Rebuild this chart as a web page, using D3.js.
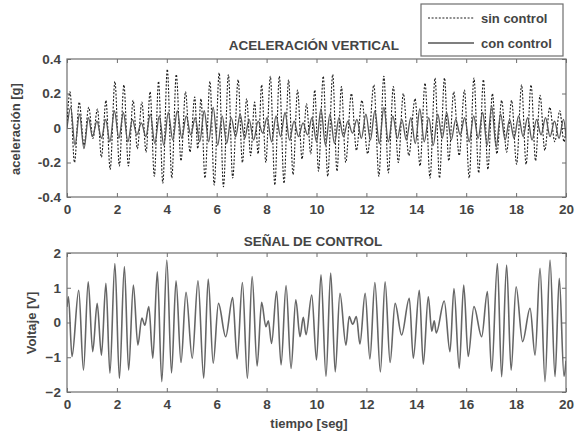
<!DOCTYPE html>
<html><head><meta charset="utf-8">
<script src="https://cdn.jsdelivr.net/npm/d3@7"></script>
<style>
body{margin:0;background:#fff;}
svg{font-family:"Liberation Sans",Arial,Helvetica,sans-serif;}
</style></head>
<body><svg id="c" width="575" height="431"></svg>
<script>
// ---------- data ----------
const xTicks = [0,2,4,6,8,10,12,14,16,18,20];
const accTicks = [-0.4,-0.2,0,0.2,0.4];
const accTickLabels = ["-0.4","-0.2","0","0.2","0.4"];
const voltTicks = [-2,-1,0,1,2];
const seriesNames = ["sin control","con control"];

// aceleración sin control (extremos leídos)
const sinT = [0.00,0.12,0.30,0.49,0.68,0.87,1.04,1.22,1.38,1.56,1.73,1.92,2.10,2.28,2.46,2.65,2.82,3.00,3.17,3.33,3.50,3.67,3.84,4.02,4.20,4.38,4.57,4.75,4.93,5.12,5.24,5.37,5.53,5.73,5.90,6.10,6.27,6.47,6.64,6.86,7.03,7.20,7.36,7.52,7.66,7.80,7.97,8.15,8.33,8.51,8.70,8.88,9.06,9.24,9.42,9.60,9.77,9.93,10.08,10.27,10.45,10.65,10.82,11.00,11.17,11.40,11.60,11.82,12.05,12.30,12.50,12.70,12.88,13.08,13.28,13.48,13.70,13.95,14.15,14.35,14.55,14.75,14.93,15.13,15.30,15.50,15.72,15.93,16.12,16.31,16.50,16.69,16.87,17.05,17.23,17.42,17.62,17.82,18.02,18.22,18.40,18.60,18.78,18.96,19.15,19.35,19.55,19.75,19.92,20.00];
const sinV = [0.02,0.21,-0.20,0.15,-0.10,0.12,-0.06,0.11,-0.17,0.16,-0.24,0.27,-0.22,0.25,-0.22,0.16,-0.12,0.15,-0.14,0.21,-0.28,0.27,-0.32,0.34,-0.29,0.31,-0.19,0.21,-0.14,0.18,-0.12,0.17,-0.29,0.27,-0.33,0.32,-0.34,0.31,-0.29,0.28,-0.20,0.17,-0.16,0.15,-0.15,0.25,-0.20,0.30,-0.33,0.30,-0.32,0.28,-0.27,0.22,-0.18,0.14,-0.15,0.22,-0.25,0.30,-0.28,0.31,-0.25,0.24,-0.20,0.20,-0.13,0.16,-0.15,0.25,-0.28,0.30,-0.26,0.24,-0.20,0.20,-0.16,0.17,-0.22,0.26,-0.29,0.29,-0.29,0.29,-0.19,0.21,-0.16,0.22,-0.29,0.29,-0.26,0.28,-0.24,0.20,-0.15,0.16,-0.14,0.16,-0.21,0.25,-0.21,0.25,-0.19,0.19,-0.13,0.12,-0.08,0.10,-0.08,0.00];

// aceleración con control
const conT = [0.00,0.15,0.32,0.50,0.68,0.86,1.02,1.20,1.38,1.55,1.72,1.90,2.08,2.26,2.44,2.62,2.80,2.98,3.16,3.34,3.52,3.70,3.88,4.06,4.24,4.42,4.60,4.78,4.96,5.14,5.32,5.50,5.68,5.86,6.04,6.22,6.40,6.58,6.76,6.94,7.12,7.30,7.48,7.66,7.84,8.02,8.20,8.38,8.56,8.74,8.92,9.10,9.28,9.46,9.64,9.82,10.00,10.18,10.36,10.54,10.72,10.90,11.08,11.26,11.44,11.62,11.80,11.98,12.16,12.34,12.52,12.70,12.88,13.06,13.24,13.42,13.60,13.78,13.96,14.14,14.32,14.50,14.68,14.86,15.04,15.22,15.40,15.58,15.76,15.94,16.12,16.30,16.48,16.66,16.84,17.02,17.20,17.38,17.56,17.74,17.92,18.10,18.28,18.46,18.64,18.82,19.00,19.18,19.36,19.54,19.72,19.90,20.00];
const conV = [0.00,0.12,-0.10,0.08,-0.12,0.06,-0.05,0.04,-0.06,0.05,-0.08,0.10,-0.06,0.09,-0.08,0.05,-0.04,0.03,-0.05,0.08,-0.09,0.07,-0.10,0.09,-0.07,0.10,-0.06,0.07,-0.04,0.06,-0.08,0.10,-0.08,0.12,-0.10,0.07,-0.09,0.06,-0.05,0.08,-0.06,0.05,-0.07,0.04,-0.03,0.06,-0.08,0.07,-0.05,0.09,-0.07,0.04,-0.05,0.03,-0.04,0.06,-0.08,0.11,-0.10,0.08,-0.09,0.06,-0.05,0.04,-0.03,0.05,-0.06,0.08,-0.07,0.10,-0.09,0.12,-0.08,0.07,-0.06,0.05,-0.07,0.06,-0.09,0.11,-0.08,0.06,-0.10,0.08,-0.06,0.09,-0.07,0.05,-0.04,0.06,-0.08,0.07,-0.06,0.09,-0.10,0.13,-0.11,0.08,-0.07,0.05,-0.06,0.07,-0.05,0.06,-0.07,0.05,-0.04,0.06,-0.05,0.04,-0.06,0.05,-0.05];

// señal de control [V]
const ctrlT = [0.00,0.06,0.20,0.47,0.66,0.85,1.03,1.21,1.38,1.56,1.72,1.92,2.10,2.30,2.47,2.66,2.84,3.00,3.12,3.28,3.44,3.62,3.80,4.00,4.19,4.37,4.57,4.77,5.02,5.25,5.48,5.66,5.86,6.07,6.36,6.64,6.82,7.03,7.23,7.42,7.62,7.80,7.97,8.07,8.20,8.40,8.58,8.78,8.98,9.17,9.34,9.47,9.58,9.81,10.00,10.18,10.38,10.57,10.75,10.94,11.18,11.31,11.45,11.60,11.74,11.95,12.14,12.34,12.56,12.75,12.95,13.15,13.41,13.72,13.88,14.12,14.28,14.48,14.62,14.72,14.80,15.12,15.35,15.51,15.72,15.90,16.08,16.31,16.62,16.85,17.02,17.25,17.42,17.62,17.80,18.00,18.26,18.56,18.76,18.96,19.16,19.36,19.56,19.73,19.92,20.00];
const ctrlV = [0.45,0.74,-0.98,0.93,-1.37,1.17,-0.84,0.55,-0.94,1.13,-1.46,1.70,-1.61,1.61,-1.37,1.08,-0.65,0.13,-0.08,0.46,-1.03,1.46,-1.70,1.80,-1.45,1.20,-1.15,0.87,-1.03,1.20,-1.60,1.25,-1.17,0.55,-0.41,0.72,-1.05,1.15,-1.61,1.32,-1.25,0.58,-0.12,0.05,-0.60,0.90,-1.22,1.06,-1.32,0.65,-0.41,0.15,-0.35,0.79,-1.08,1.37,-1.55,1.42,-1.42,0.84,-0.65,0.17,-0.05,0.17,-0.62,0.84,-1.05,1.15,-1.42,1.17,-1.15,0.55,-0.36,0.70,-1.03,0.93,-1.20,0.74,-0.25,0.05,-0.30,0.62,-0.84,0.98,-1.32,1.08,-0.98,0.46,-0.41,0.89,-1.41,1.70,-1.56,1.65,-1.37,1.03,-0.55,0.41,-0.94,1.56,-1.70,1.80,-1.56,1.27,-1.55,-1.10];

// ---------- drawing ----------
const svg = d3.select("#c");
const X0 = 67, X1 = 566;
const x = d3.scaleLinear().domain([0,20]).range([X0,X1]);
const yA = d3.scaleLinear().domain([-0.4,0.4]).range([197,59]);
const yV = d3.scaleLinear().domain([-2,2]).range([392,253]);
const frameCol = "#6e6e6e", txtCol = "#444";

function panel(y, yTicks, yFmt, id){
  const [yb, yt] = y.range();
  svg.append("clipPath").attr("id",id).append("rect")
    .attr("x",X0).attr("y",yt).attr("width",X1-X0).attr("height",yb-yt);
  const gx = svg.append("g").attr("transform",`translate(0,${yb})`)
    .call(d3.axisBottom(x).tickValues(xTicks).tickSize(-4).tickSizeOuter(0).tickPadding(7));
  const gxt = svg.append("g").attr("transform",`translate(0,${yt})`)
    .call(d3.axisTop(x).tickValues(xTicks).tickSize(-4).tickSizeOuter(0).tickFormat(""));
  const gy = svg.append("g").attr("transform",`translate(${X0},0)`)
    .call(d3.axisLeft(y).tickValues(yTicks).tickSize(-4).tickSizeOuter(0).tickPadding(6).tickFormat(yFmt));
  const gyr = svg.append("g").attr("transform",`translate(${X1},0)`)
    .call(d3.axisRight(y).tickValues(yTicks).tickSize(-4).tickSizeOuter(0).tickFormat(""));
  [gx,gxt,gy,gyr].forEach(g=>{
    g.select(".domain").remove();
    g.selectAll("line").attr("stroke",frameCol);
    g.selectAll("text").attr("fill",txtCol).style("font-size","13.5px").style("font-weight","bold");
  });
  svg.append("rect").attr("x",X0).attr("y",yt).attr("width",X1-X0).attr("height",yb-yt)
    .attr("fill","none").attr("stroke",frameCol).attr("stroke-width",1.2);
}

panel(yA, accTicks, (d,i)=>accTickLabels[i], "clipA");
panel(yV, voltTicks, d3.format("d"), "clipV");

const lineA = d3.line().x(d=>x(d[0])).y(d=>yA(d[1])).curve(d3.curveMonotoneX);
const lineV = d3.line().x(d=>x(d[0])).y(d=>yV(d[1])).curve(d3.curveMonotoneX);

svg.append("path").attr("clip-path","url(#clipA)")
  .attr("d", lineA(sinT.map((t,i)=>[t,sinV[i]])))
  .attr("fill","none").attr("stroke","#1e1e1e").attr("stroke-width",1.1).attr("stroke-dasharray","2,1.6");
svg.append("path").attr("clip-path","url(#clipA)")
  .attr("d", lineA(conT.map((t,i)=>[t,conV[i]])))
  .attr("fill","none").attr("stroke","#555").attr("stroke-width",1.3);

svg.append("path").attr("clip-path","url(#clipV)")
  .attr("d", lineV(ctrlT.map((t,i)=>[t,ctrlV[i]])))
  .attr("fill","none").attr("stroke","#666").attr("stroke-width",1.6);

// titles & labels
svg.append("text").attr("x",314).attr("y",50).attr("text-anchor","middle")
  .attr("fill",txtCol).style("font-size","13.5px").style("font-weight","bold").text("ACELERACIÓN VERTICAL");
svg.append("text").attr("x",313).attr("y",246).attr("text-anchor","middle")
  .attr("fill",txtCol).style("font-size","13.5px").style("font-weight","bold").text("SEÑAL DE CONTROL");
svg.append("text").attr("x",309).attr("y",428).attr("text-anchor","middle")
  .attr("fill",txtCol).style("font-size","13px").style("font-weight","bold").text("tiempo [seg]");
svg.append("text").attr("transform","translate(20,129) rotate(-90)").attr("text-anchor","middle")
  .attr("fill",txtCol).style("font-size","13px").style("font-weight","bold").text("aceleración [g]");
svg.append("text").attr("transform","translate(36,323) rotate(-90)").attr("text-anchor","middle")
  .attr("fill",txtCol).style("font-size","13px").style("font-weight","bold").text("Voltaje [V]");

// legend
const lg = svg.append("g");
lg.append("rect").attr("x",421).attr("y",4).attr("width",142).attr("height",52)
  .attr("fill","#fff").attr("stroke",frameCol).attr("stroke-width",1.2);
const lgY = [18,43];
lg.append("line").attr("x1",428).attr("x2",474).attr("y1",lgY[0]).attr("y2",lgY[0])
  .attr("stroke","#1e1e1e").attr("stroke-width",1.1).attr("stroke-dasharray","2,1.6");
lg.append("line").attr("x1",428).attr("x2",474).attr("y1",lgY[1]).attr("y2",lgY[1])
  .attr("stroke","#555").attr("stroke-width",1.3);
seriesNames.forEach((n,i)=>{
  lg.append("text").attr("x",481).attr("y",lgY[i]+4.5).attr("fill",txtCol)
    .style("font-size","13px").style("font-weight","bold").text(n);
});
</script></body></html>
